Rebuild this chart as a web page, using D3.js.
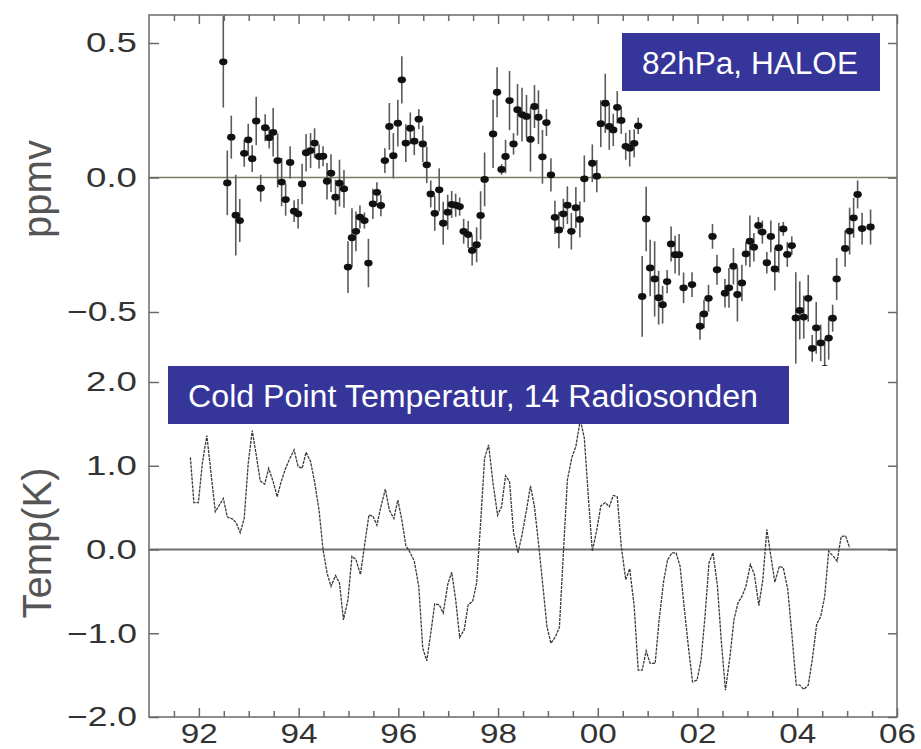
<!DOCTYPE html>
<html>
<head>
<meta charset="utf-8">
<script src="https://cdn.jsdelivr.net/npm/d3@7"></script>
<style>
  html, body { margin: 0; padding: 0; background: #fff; }
  svg { display: block; }
  text { font-family: "Liberation Sans", Arial, Helvetica, sans-serif; }
</style>
</head>
<body>
<svg id="chart" width="921" height="749"></svg>
<script>
// HALOE water vapour anomaly at 82 hPa (ppmv), with 1-sigma error bars
const haloeYears = [
  1992.49,1992.57,1992.65,1992.74,1992.82,1992.91,1992.99,
  1993.07,1993.15,1993.24,1993.33,1993.41,1993.49,1993.58,1993.66,1993.74,1993.83,1993.91,1993.99,
  1994.07,1994.15,1994.24,1994.32,1994.41,1994.49,1994.57,1994.65,1994.74,1994.82,1994.91,1994.99,
  1995.07,1995.15,1995.23,1995.32,1995.40,1995.49,1995.57,1995.65,1995.73,1995.82,1995.90,1995.99,
  1996.07,1996.15,1996.24,1996.32,1996.41,1996.49,1996.57,1996.65,1996.73,1996.82,1996.90,1996.99,
  1997.07,1997.15,1997.23,1997.31,1997.40,1997.48,1997.57,1997.65,1997.73,1997.90,1997.98,
  1998.07,1998.15,1998.23,1998.31,1998.39,1998.48,1998.57,1998.65,1998.73,1998.81,1998.89,1998.97,
  1999.06,1999.14,1999.22,1999.31,1999.39,1999.47,1999.56,1999.64,1999.73,1999.89,1999.98,
  2000.06,2000.15,2000.23,2000.31,2000.39,2000.47,2000.56,2000.64,2000.73,2000.81,
  2000.89,2000.97,
  2001.05,2001.14,2001.22,2001.30,2001.39,2001.47,2001.55,2001.63,2001.72,2001.89,
  2002.05,2002.13,2002.22,2002.30,2002.39,2002.55,2002.63,2002.72,2002.80,2002.89,2002.97,
  2003.05,2003.13,2003.22,2003.30,2003.39,2003.47,2003.55,2003.63,2003.72,2003.80,2003.89,2003.97,
  2004.05,2004.13,2004.22,2004.30,2004.38,2004.47,2004.55,2004.63,2004.71,2004.79,2004.96,
  2005.05,2005.13,2005.21,2005.30,2005.47
];
const haloeH2O = [
  0.43,-0.02,0.15,-0.14,-0.16,0.09,0.14,0.07,0.21,-0.04,
  0.185,0.148,0.168,0.063,-0.017,-0.082,0.056,-0.125,-0.135,-0.024,
  0.092,0.10,0.128,0.078,0.079,-0.014,0.016,-0.073,-0.021,-0.042,
  -0.333,-0.224,-0.20,-0.147,-0.16,-0.318,-0.098,-0.055,-0.104,0.063,
  0.19,0.081,0.202,0.363,0.128,0.183,0.135,0.217,0.125,0.047,
  -0.061,-0.133,-0.046,-0.17,-0.129,-0.10,-0.103,-0.108,-0.20,-0.212,
  -0.271,-0.25,-0.141,-0.007,0.162,0.317,0.03,0.078,0.286,0.125,
  0.252,0.234,0.227,0.142,0.264,0.224,0.077,0.204,0.01,-0.148,
  -0.195,-0.135,-0.103,-0.20,-0.112,-0.156,-0.005,0.053,0.005,0.20,
  0.276,0.19,0.177,0.261,0.212,0.116,0.109,0.127,0.192,
  -0.442,-0.154,-0.336,-0.377,-0.447,-0.473,-0.387,-0.247,-0.287,-0.287,
  -0.41,-0.398,-0.553,-0.507,-0.449,-0.219,-0.343,-0.43,-0.41,-0.33,
  -0.435,-0.392,-0.284,-0.237,-0.259,-0.178,-0.203,-0.317,-0.219,-0.34,
  -0.261,-0.191,-0.286,-0.253,-0.522,-0.494,-0.519,-0.449,-0.635,-0.559,
  -0.615,-0.71,-0.597,-0.523,-0.377,-0.264,-0.199,-0.150,-0.063,-0.19,
  -0.184
];
const haloeErr = [
  0.17,0.12,0.08,0.15,0.08,0.05,0.06,0.05,0.09,0.05,
  0.05,0.04,0.09,0.10,0.09,0.06,0.06,0.04,0.055,0.075,
  0.07,0.065,0.055,0.045,0.037,0.068,0.07,0.065,0.087,0.07,
  0.096,0.11,0.074,0.043,0.03,0.09,0.056,0.037,0.04,0.046,
  0.087,0.084,0.087,0.088,0.07,0.059,0.052,0.037,0.068,0.068,
  0.05,0.065,0.08,0.08,0.065,0.05,0.043,0.034,0.046,0.05,
  0.056,0.065,0.09,0.10,0.127,0.093,0.02,0.062,0.11,0.04,
  0.096,0.10,0.08,0.12,0.08,0.10,0.10,0.05,0.062,0.062,
  0.068,0.056,0.07,0.068,0.077,0.067,0.087,0.07,0.06,0.087,
  0.11,0.087,0.06,0.06,0.05,0.05,0.068,0.052,0.03,
  0.15,0.12,0.105,0.14,0.10,0.07,0.043,0.065,0.07,0.077,
  0.057,0.046,0.05,0.053,0.05,0.046,0.056,0.053,0.074,0.068,
  0.10,0.068,0.043,0.096,0.053,0.031,0.043,0.04,0.059,0.08,
  0.093,0.026,0.046,0.034,0.17,0.108,0.08,0.087,0.05,0.096,
  0.068,0.11,0.08,0.05,0.078,0.068,0.087,0.074,0.052,0.059,
  0.065
];

// Cold point temperature anomaly (K), mean of 14 radiosonde stations
const cptYears = [
  1991.83,1991.90,1991.99,1992.07,1992.16,1992.33,1992.49,1992.57,1992.69,1992.75,1992.83,1992.91,1992.99,
  1993.07,1993.15,1993.23,1993.32,1993.40,1993.49,1993.57,1993.65,1993.74,1993.82,1993.91,1993.99,
  1994.07,1994.15,1994.24,1994.32,1994.41,1994.49,1994.57,1994.65,1994.74,1994.82,1994.90,1994.99,
  1995.07,1995.15,1995.24,1995.32,1995.41,1995.49,1995.57,1995.65,1995.74,1995.82,1995.91,1995.99,
  1996.07,1996.15,1996.24,1996.32,1996.41,1996.49,1996.57,1996.65,1996.73,1996.82,1996.90,1996.99,
  1997.07,1997.15,1997.23,1997.32,1997.40,1997.49,1997.57,1997.65,1997.73,1997.81,1997.90,1997.99,
  1998.07,1998.15,1998.23,1998.31,1998.40,1998.48,1998.57,1998.65,1998.73,1998.81,1998.90,1998.98,
  1999.06,1999.15,1999.23,1999.31,1999.39,1999.48,1999.56,1999.65,1999.73,1999.81,1999.89,1999.98,
  2000.06,2000.15,2000.23,2000.31,2000.39,2000.47,2000.56,2000.64,2000.73,2000.81,2000.89,2000.97,
  2001.05,2001.15,2001.23,2001.32,2001.40,2001.49,2001.57,2001.65,2001.73,2001.82,2001.90,2001.99,
  2002.07,2002.15,2002.23,2002.31,2002.40,2002.48,2002.56,2002.65,2002.73,2002.81,2002.89,2002.97,
  2003.06,2003.14,2003.23,2003.31,2003.39,2003.55,2003.64,2003.72,2003.81,2003.89,2003.98,
  2004.05,2004.13,2004.22,2004.30,2004.39,2004.47,2004.55,2004.63,2004.72,2004.80,2004.88,2004.97,
  2005.05
];
const cptAnom = [
  1.10,0.56,0.56,1.03,1.36,0.45,0.61,0.39,0.36,0.315,0.20,0.375,1.03,
  1.42,1.13,0.82,0.78,0.97,0.81,0.63,0.81,0.97,1.08,1.19,0.99,
  0.97,1.16,1.05,0.81,0.47,0.0,-0.28,-0.44,-0.31,-0.40,-0.84,-0.60,
  -0.08,-0.12,-0.30,0.04,0.41,0.40,0.29,0.51,0.72,0.47,0.37,0.59,
  0.355,0.05,-0.04,-0.14,-0.44,-1.18,-1.33,-1.00,-0.65,-0.66,-0.76,-0.42,
  -0.27,-0.60,-1.05,-0.96,-0.66,-0.62,-0.40,0.315,1.09,1.25,0.79,0.41,
  0.51,0.88,0.81,0.20,-0.04,0.175,0.47,0.76,0.51,0.08,-0.44,-0.92,
  -1.12,-1.04,-0.93,-0.04,0.83,1.10,1.23,1.55,1.33,0.63,-0.02,0.235,
  0.52,0.56,0.51,0.645,0.63,0.04,-0.36,-0.23,-0.68,-1.44,-1.44,-1.21,
  -1.36,-1.36,-0.84,-0.38,-0.12,-0.04,-0.04,-0.20,-0.68,-1.18,-1.58,-1.56,
  -1.32,-0.80,-0.16,-0.04,-0.44,-1.12,-1.68,-1.28,-0.84,-0.64,-0.56,-0.44,
  -0.18,-0.30,-0.67,-0.36,0.24,-0.39,-0.20,-0.22,-0.48,-1.00,-1.62,
  -1.62,-1.67,-1.62,-1.32,-0.89,-0.80,-0.56,-0.02,-0.08,-0.14,0.155,0.16,
  0.02
];

// Axis ticks and labels
const xMajorYears = [1992, 1994, 1996, 1998, 2000, 2002, 2004, 2006];
const xMajorLabels = ["92", "94", "96", "98", "00", "02", "04", "06"];
const xMinorYears = [1991.5, 1992.5, 1993, 1993.5, 1994.5, 1995, 1995.5, 1996.5, 1997, 1997.5,
  1998.5, 1999, 1999.5, 2000.5, 2001, 2001.5, 2002.5, 2003, 2003.5, 2004.5, 2005, 2005.5];
const ppmvTicks = [0.5, 0.0, -0.5];
const tempTicks = [2.0, 1.0, 0.0, -1.0, -2.0];

const panelTitles = ["82hPa, HALOE", "Cold Point Temperatur, 14 Radiosonden"];
const yTitles = ["ppmv", "Temp(K)"];

// ---------------------------------------------------------------------------
const svg = d3.select("#chart");
const frame = { left: 149, right: 897, top: 15, bottom: 717 };
const topPanelBottom = 366;   // lower edge of the water-vapour panel

const x = d3.scaleLinear().domain([1991, 2006]).range([frame.left, frame.right]);
const yTop = d3.scaleLinear().domain([-0.5, 0.5]).range([312, 43]);
const yBot = d3.scaleLinear().domain([-2, 2]).range([717, 382]);

const axisColor = "#6a6a6a";
const labelColor = "#333";
const fmt = d3.format(".1f");

// width of the wide vector-font tick labels
function labelWidth(s) {
  let w = 0;
  for (const ch of s) w += (ch === "." ? 14 : ch === "\u2212" ? 19 : 18.5);
  return w;
}

svg.append("defs").append("clipPath").attr("id", "clip-top")
  .append("rect")
  .attr("x", frame.left).attr("y", frame.top)
  .attr("width", frame.right - frame.left).attr("height", topPanelBottom - frame.top);

// zero lines
svg.append("line")
  .attr("x1", frame.left).attr("x2", frame.right)
  .attr("y1", yTop(0)).attr("y2", yTop(0))
  .attr("stroke", "#7c7c62").attr("stroke-width", 1.5);
svg.append("line")
  .attr("x1", frame.left).attr("x2", frame.right)
  .attr("y1", yBot(0)).attr("y2", yBot(0))
  .attr("stroke", "#6e6e6e").attr("stroke-width", 2);

// HALOE error bars and points
const haloe = haloeYears.map((t, i) => ({ t, v: haloeH2O[i], e: haloeErr[i] }));
const gH = svg.append("g").attr("clip-path", "url(#clip-top)");
gH.selectAll("line.err").data(haloe).join("line")
  .attr("class", "err")
  .attr("x1", d => x(d.t)).attr("x2", d => x(d.t))
  .attr("y1", d => yTop(d.v + d.e))
  .attr("y2", d => yTop(d.v - d.e))
  .attr("stroke", "#5a5a5a").attr("stroke-width", 1.6);
gH.selectAll("ellipse").data(haloe).join("ellipse")
  .attr("cx", d => x(d.t)).attr("cy", d => yTop(d.v))
  .attr("rx", 4.2).attr("ry", 3.4)
  .attr("fill", "#111");

// cold point temperature line
const cpt = cptYears.map((t, i) => ({ t, v: cptAnom[i] }));
svg.append("path")
  .datum(cpt)
  .attr("fill", "none")
  .attr("stroke", "#3a3a3a")
  .attr("stroke-width", 1.3)
  .attr("stroke-dasharray", "3 1")
  .attr("d", d3.line().x(d => x(d.t)).y(d => yBot(d.v)));

// frame
svg.append("rect")
  .attr("x", frame.left).attr("y", frame.top)
  .attr("width", frame.right - frame.left).attr("height", frame.bottom - frame.top)
  .attr("fill", "none").attr("stroke", axisColor).attr("stroke-width", 1.5);

function styleAxis(g) {
  g.select(".domain").remove();
  g.selectAll(".tick line").attr("stroke", axisColor).attr("stroke-width", 1.5);
  g.selectAll(".tick text")
    .attr("fill", labelColor)
    .attr("font-size", 28)
    .attr("font-family", "Liberation Sans, Arial, sans-serif")
    .attr("textLength", function () { return labelWidth(this.textContent); })
    .attr("lengthAdjust", "spacingAndGlyphs");
}

// bottom axis: major with labels, minor without
svg.append("g").attr("transform", `translate(0,${frame.bottom})`)
  .call(d3.axisBottom(x).tickValues(xMajorYears)
    .tickFormat((d, i) => xMajorLabels[i]).tickSizeInner(-9).tickSizeOuter(0).tickPadding(6))
  .call(styleAxis);
svg.append("g").attr("transform", `translate(0,${frame.bottom})`)
  .call(d3.axisBottom(x).tickValues(xMinorYears).tickFormat("").tickSizeInner(-6).tickSizeOuter(0))
  .call(styleAxis);
// top axis ticks
svg.append("g").attr("transform", `translate(0,${frame.top})`)
  .call(d3.axisTop(x).tickValues(xMajorYears).tickFormat("").tickSizeInner(-9).tickSizeOuter(0))
  .call(styleAxis);
svg.append("g").attr("transform", `translate(0,${frame.top})`)
  .call(d3.axisTop(x).tickValues(xMinorYears).tickFormat("").tickSizeInner(-6).tickSizeOuter(0))
  .call(styleAxis);

// left axes
svg.append("g").attr("transform", `translate(${frame.left},0)`)
  .call(d3.axisLeft(yTop).tickValues(ppmvTicks).tickFormat(fmt).tickSizeInner(-10).tickSizeOuter(0).tickPadding(12))
  .call(styleAxis);
svg.append("g").attr("transform", `translate(${frame.left},0)`)
  .call(d3.axisLeft(yBot).tickValues(tempTicks).tickFormat(fmt).tickSizeInner(-10).tickSizeOuter(0).tickPadding(12))
  .call(styleAxis);
// right axes (ticks only)
svg.append("g").attr("transform", `translate(${frame.right},0)`)
  .call(d3.axisRight(yTop).tickValues(ppmvTicks).tickFormat("").tickSizeInner(-9).tickSizeOuter(0))
  .call(styleAxis);
svg.append("g").attr("transform", `translate(${frame.right},0)`)
  .call(d3.axisRight(yBot).tickValues(tempTicks).tickFormat("").tickSizeInner(-9).tickSizeOuter(0))
  .call(styleAxis);

// y axis titles
svg.append("text")
  .attr("transform", "translate(51,189) rotate(-90)")
  .attr("text-anchor", "middle")
  .attr("font-size", 40).attr("fill", "#555")
  .text(yTitles[0]);
svg.append("text")
  .attr("transform", "translate(51,543) rotate(-90)")
  .attr("text-anchor", "middle")
  .attr("font-size", 40).attr("fill", "#555")
  .text(yTitles[1]);

// panel title boxes
const boxFill = "#35359a";
svg.append("rect").attr("x", 622).attr("y", 33).attr("width", 258).attr("height", 58).attr("fill", boxFill);
svg.append("text").attr("x", 642).attr("y", 74)
  .attr("font-size", 31).attr("fill", "#fff")
  .attr("textLength", 216).attr("lengthAdjust", "spacingAndGlyphs")
  .text(panelTitles[0]);
svg.append("rect").attr("x", 168).attr("y", 366).attr("width", 621).attr("height", 58).attr("fill", boxFill);
svg.append("text").attr("x", 188).attr("y", 407)
  .attr("font-size", 31).attr("fill", "#fff")
  .attr("textLength", 570).attr("lengthAdjust", "spacingAndGlyphs")
  .text(panelTitles[1]);
</script>
</body>
</html>
